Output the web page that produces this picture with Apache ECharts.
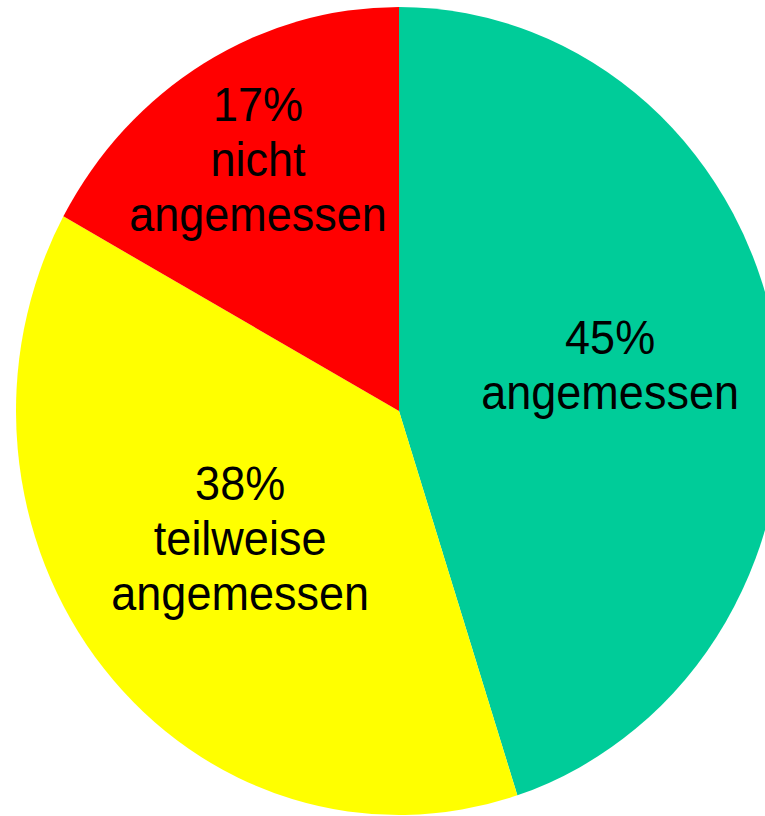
<!DOCTYPE html>
<html>
<head>
<meta charset="utf-8">
<script src="https://cdn.jsdelivr.net/npm/echarts@6/dist/echarts.min.js"></script>
<style>
  html, body { margin: 0; padding: 0; background: #ffffff; overflow: hidden; }
  #wrap { width: 765px; height: 816px; overflow: hidden; }
  #chart { width: 765px; height: 773.5px; transform: scaleY(1.055); transform-origin: 0 0; }
</style>
</head>
<body>
<div id="wrap"><div id="chart"></div></div>
<script>
// Data
const categories = ['angemessen', 'teilweise\nangemessen', 'nicht\nangemessen'];
const values = [45, 38, 17];

// Styles (kept apart from data)
const colors = ['#00CC99', '#FFFF00', '#FF0000'];
const labelShift = [[19, -13], [-9, -3], [-42, -71]];

const chart = echarts.init(document.getElementById('chart'), null, { renderer: 'svg' });
chart.setOption({
  animation: false,
  backgroundColor: '#ffffff',
  series: [{
    type: 'pie',
    center: [399, 389.6],
    radius: [0, 383],
    startAngle: 90,
    clockwise: true,
    silent: true,
    emphasis: { disabled: true },
    itemStyle: { borderWidth: 0 },
    label: {
      show: true,
      position: 'inside',
      color: '#000000',
      fontFamily: '"Liberation Sans", Arial, sans-serif',
      fontSize: 45,
      lineHeight: 52.5,
      formatter: function (p) { return p.value + '%\n' + p.name; }
    },
    labelLine: { show: false },
    labelLayout: function (p) {
      const s = labelShift[p.dataIndex];
      return { dx: s[0], dy: s[1] };
    },
    data: categories.map(function (c, i) {
      return { name: c, value: values[i], itemStyle: { color: colors[i] } };
    })
  }]
});
</script>
</body>
</html>
